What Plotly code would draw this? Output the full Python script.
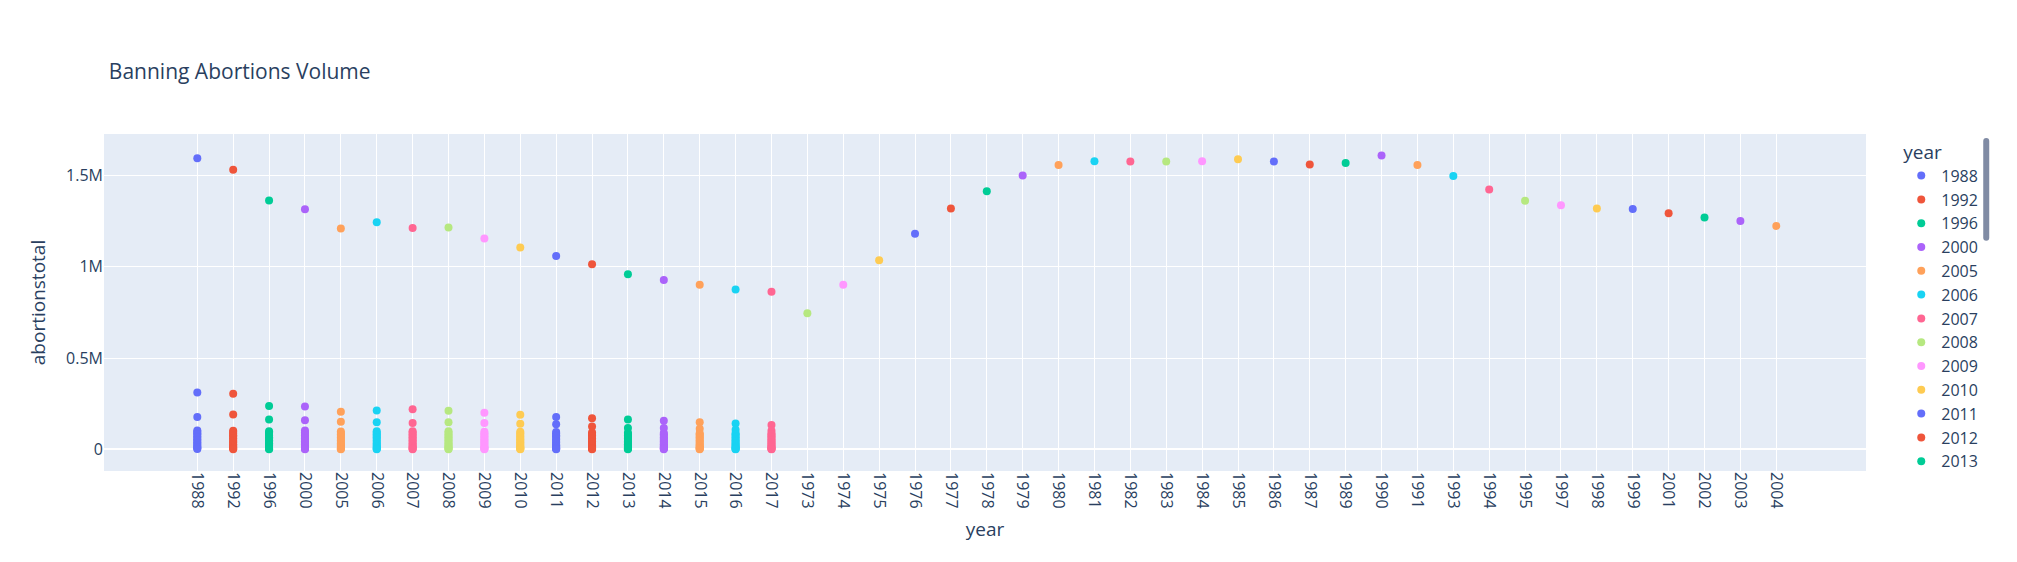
import plotly.graph_objects as go

# Category order on x axis (order of appearance)
categories = ["1988","1992","1996","2000","2005","2006","2007","2008","2009","2010",
              "2011","2012","2013","2014","2015","2016","2017",
              "1973","1974","1975","1976","1977","1978","1979","1980","1981","1982",
              "1983","1984","1985","1986","1987","1989","1990","1991","1993","1994",
              "1995","1997","1998","1999","2001","2002","2003","2004"]

# National totals per year
us_total = {
    "1988":1592000,"1992":1530000,"1996":1361000,"2000":1313000,"2005":1208000,
    "2006":1242000,"2007":1211000,"2008":1213000,"2009":1153000,"2010":1104000,
    "2011":1058000,"2012":1013000,"2013":958000,"2014":927000,"2015":900000,
    "2016":874000,"2017":862000,"1973":745000,"1974":900000,"1975":1035000,
    "1976":1180000,"1977":1317000,"1978":1412000,"1979":1498000,"1980":1555000,
    "1981":1576000,"1982":1575000,"1983":1575000,"1984":1576000,"1985":1587000,
    "1986":1575000,"1987":1558000,"1989":1567000,"1990":1607000,"1991":1556000,
    "1993":1495000,"1994":1422000,"1995":1360000,"1997":1335000,"1998":1318000,
    "1999":1315000,"2001":1291000,"2002":1269000,"2003":1249000,"2004":1222000,
}

# State-level values (years with state breakdowns)
state_values = {
    "1988":[311000,178000,104000,96000,88000,81000,72000,64000,55000,47000,39000,31000,24000,17000,11000,6000,2000],
    "1992":[304000,191000,102000,95000,86000,78000,70000,61000,52000,44000,36000,28000,21000,15000,9000,5000,1000],
    "1996":[237000,164000,100000,93000,84000,76000,67000,59000,50000,42000,34000,27000,20000,13000,8000,4000,1000],
    "2000":[235000,160000,103000,94000,85000,77000,68000,60000,51000,43000,35000,27000,20000,14000,8000,4000,1000],
    "2005":[206000,151000,98000,90000,82000,74000,65000,57000,49000,41000,33000,26000,19000,13000,8000,4000,1000],
    "2006":[213000,148000,99000,91000,83000,75000,66000,58000,49000,41000,33000,26000,19000,13000,8000,4000,1000],
    "2007":[220000,144000,100000,92000,83000,75000,66000,58000,50000,42000,34000,26000,19000,13000,8000,4000,1000],
    "2008":[211000,148000,99000,91000,82000,74000,65000,57000,49000,41000,33000,26000,19000,13000,8000,4000,1000],
    "2009":[200000,144000,97000,89000,80000,72000,64000,56000,48000,40000,32000,25000,18000,12000,7000,3000,1000],
    "2010":[189000,140000,96000,88000,79000,71000,63000,55000,47000,39000,31000,24000,18000,12000,7000,3000,1000],
    "2011":[178000,137000,95000,87000,78000,70000,62000,54000,46000,38000,30000,23000,17000,11000,7000,3000,1000],
    "2012":[171000,126000,93000,85000,77000,69000,61000,53000,45000,37000,29000,22000,16000,11000,6000,3000,1000],
    "2013":[164000,117000,91000,84000,76000,68000,60000,52000,44000,36000,28000,22000,16000,10000,6000,3000,1000],
    "2014":[157000,117000,90000,83000,75000,67000,59000,51000,43000,35000,28000,21000,15000,10000,6000,3000,1000],
    "2015":[148000,113000,89000,82000,74000,66000,58000,50000,42000,35000,27000,21000,15000,10000,6000,3000,1000],
    "2016":[142000,107000,88000,81000,73000,65000,57000,49000,42000,34000,27000,20000,15000,10000,5000,2000,1000],
    "2017":[133000,102000,87000,80000,72000,64000,56000,48000,41000,34000,26000,20000,14000,9000,5000,2000,1000],
}

trace_order = ["1988","1992","1996","2000"] + [str(y) for y in range(2005, 2018)] + \
              [c for c in categories[17:]]

colors = ["#636efa","#EF553B","#00cc96","#ab63fa","#FFA15A",
          "#19d3f3","#FF6692","#B6E880","#FF97FF","#FECB52"]

fig = go.Figure()
for i, yr in enumerate(trace_order):
    ys = [us_total[yr]] + state_values.get(yr, [])
    fig.add_trace(go.Scatter(
        x=[yr]*len(ys), y=ys, mode="markers", name=yr,
        legendgroup=yr, marker=dict(color=colors[i % 10], size=8),
        hovertemplate="year=%{x}<br>abortionstotal=%{y}<extra></extra>",
    ))

fig.update_layout(
    template="plotly",
    width=2017, height=562,
    font=dict(size=16),
    title=dict(text="Banning Abortions Volume", font=dict(size=21), y=0.9),
    legend=dict(title=dict(text="year"), tracegroupgap=0),
    margin=dict(l=96, r=159, t=126, b=99),
    xaxis=dict(title=dict(text="year"), type="category",
               categoryorder="array", categoryarray=categories,
               tickangle=90, range=[-2.6, 46.5]),
    yaxis=dict(title=dict(text="abortionstotal"), range=[-118000, 1725000],
               dtick=500000),
)

fig.write_html("out.html")
